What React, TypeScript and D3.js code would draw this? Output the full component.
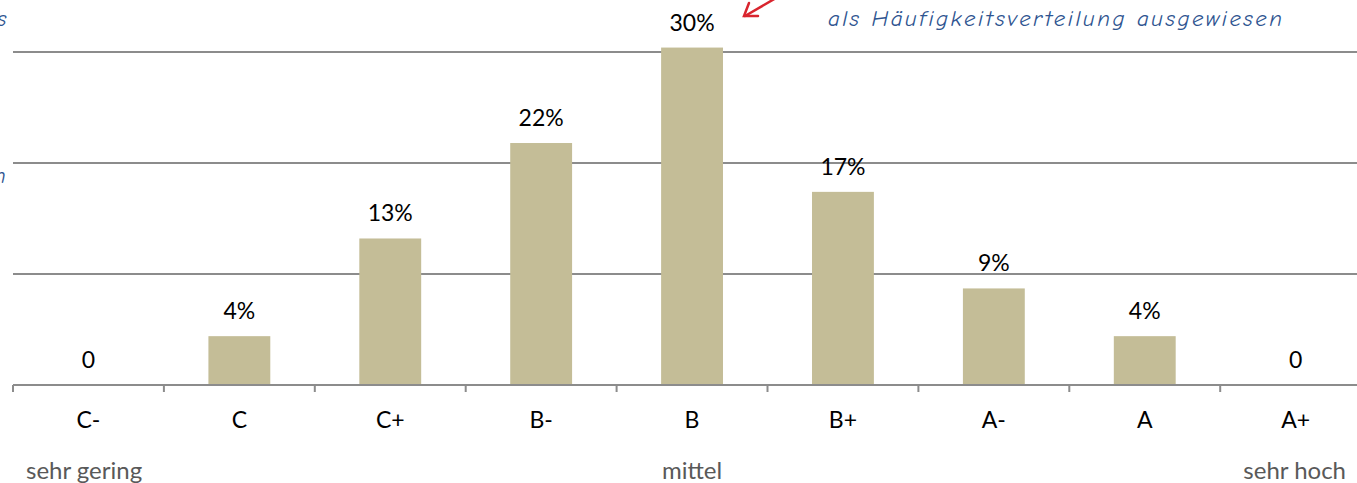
import React from "react";
import * as d3 from "d3";

// data
const categories = ["C-", "C", "C+", "B-", "B", "B+", "A-", "A", "A+"];
const shares = [0, 4.4, 13.2, 21.8, 30.4, 17.4, 8.7, 4.4, 0];
const gridValues = [10, 20, 30];
const scaleNotes = [
  { text: "sehr gering", anchor: "start", cat: "C-" },
  { text: "mittel", anchor: "middle", cat: "B" },
  { text: "sehr hoch", anchor: "end", cat: "A+" },
];
const note = "als Häufigkeitsverteilung ausgewiesen";

const width = 1357;
const height = 483;
const left = 13;
const step = 150.9;
const base = 385;

const fontMain = "Lato, 'Open Sans', sans-serif";
const fontHand = "'Comic Neue', 'DejaVu Sans', sans-serif";

const label = (v: number) => (v === 0 ? "0" : `${Math.round(v)}%`);

const App = () => {
  const x = d3
    .scaleBand()
    .domain(categories)
    .range([left, left + step * categories.length])
    .paddingInner(0.59)
    .paddingOuter(0.295);

  const y = d3.scaleLinear().domain([0, 30]).range([base, 52]);

  const center = (c: string) => (x(c) ?? 0) + x.bandwidth() / 2;
  const ticks = d3.range(categories.length + 1).map((i) => left + i * step);

  return (
    <svg
      width={width}
      height={height}
      style={{ position: "absolute", left: 0, top: 0, background: "#fff" }}
    >
      {/* gridlines */}
      {gridValues.map((g) => (
        <line key={g} x1={left} x2={width} y1={y(g)} y2={y(g)} stroke="#8c8c8c" strokeWidth={2} />
      ))}

      {/* bars */}
      {shares.map((v, i) => (
        <rect
          key={categories[i]}
          x={x(categories[i])}
          y={y(v)}
          width={x.bandwidth()}
          height={base - y(v)}
          fill="#c4bd97"
        />
      ))}

      {/* axis */}
      <line x1={left} x2={width} y1={base} y2={base} stroke="#8c8c8c" strokeWidth={2} />
      {ticks.map((t) => (
        <line key={t} x1={t} x2={t} y1={base} y2={base + 7} stroke="#8c8c8c" strokeWidth={2} />
      ))}

      {/* value labels */}
      {shares.map((v, i) => (
        <text
          key={"l" + i}
          x={center(categories[i])}
          y={y(v) - 17}
          textAnchor="middle"
          fontFamily={fontMain}
          fontSize={23}
          fill="#000"
        >
          {label(v)}
        </text>
      ))}

      {/* category labels */}
      {categories.map((c) => (
        <text key={c} x={center(c)} y={428} textAnchor="middle" fontFamily={fontMain} fontSize={23} fill="#000">
          {c}
        </text>
      ))}

      {scaleNotes.map((n) => {
        const cx = center(n.cat);
        const xx = n.anchor === "start" ? 26 : n.anchor === "end" ? 1346 : cx;
        return (
          <text
            key={n.text}
            x={xx}
            y={479}
            textAnchor={n.anchor as any}
            fontFamily={fontMain}
            fontSize={24}
            fill="#595959"
          >
            {n.text}
          </text>
        );
      })}

      {/* handwritten annotation fragments */}
      <text x={828} y={26} fontFamily={fontHand} fontStyle="italic" fontSize={23} fill="#2e5490" textLength={454}>
        {note}
      </text>
      <text x={-3} y={26} fontFamily={fontHand} fontStyle="italic" fontSize={23} fill="#2e5490">
        s
      </text>
      <text x={-7} y={183} fontFamily={fontHand} fontStyle="italic" fontSize={23} fill="#2e5490">
        n
      </text>

      {/* red arrow */}
      <g stroke="#d9252e" strokeWidth={2.5} fill="none" strokeLinecap="round">
        <line x1={776} x2={745} y1={-2} y2={16} />
        <polyline points="749,3 744,16 758,16" />
      </g>
    </svg>
  );
};

export default App;
